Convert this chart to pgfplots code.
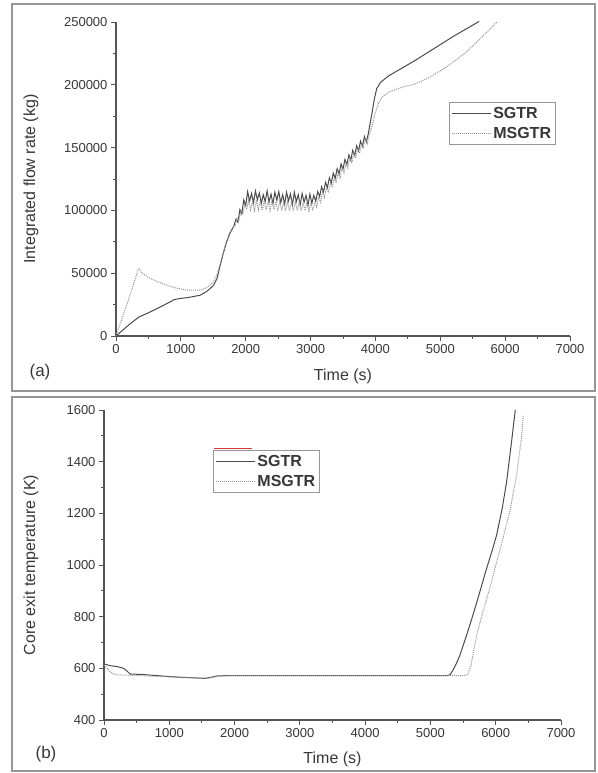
\documentclass[border=0pt]{standalone}
\usepackage{pgfplots}
\pgfplotsset{compat=1.18}
\usepackage{fontspec}
\setmainfont{Liberation Sans}

\definecolor{axgray}{RGB}{85,85,85}
\definecolor{txtgray}{RGB}{55,55,55}
\definecolor{sgtr}{RGB}{75,75,75}
\definecolor{msgtr}{RGB}{150,150,150}
\definecolor{framegray}{RGB}{150,150,150}
\definecolor{legred}{RGB}{215,60,60}

\pgfplotsset{
  panel/.style={
    scale only axis,
    axis x line=bottom, axis y line=left,
    axis line style={-, axgray, line width=1.1pt},
    tick style={axgray, line width=0.9pt},
    tick align=outside,
    major tick length=5pt, minor tick length=3pt,
    minor x tick num=1, minor y tick num=1,
    xmin=0, xmax=7000,
    xtick={0,1000,2000,3000,4000,5000,6000,7000},
    /pgf/number format/assume math mode=true,
    /pgf/number format/fixed,
    /pgf/number format/1000 sep={},
    scaled y ticks=false,
    tick label style={font=\fontsize{13}{13}\selectfont, text=txtgray},
    label style={font=\fontsize{16}{16}\selectfont, text=txtgray},
    legend style={draw=framegray, line width=1pt,
      font=\fontsize{16}{18}\selectfont\bfseries, text=txtgray,
      inner xsep=2pt, inner ysep=2pt, row sep=1pt,
      nodes={inner xsep=2pt, inner ysep=3pt}},
    legend cell align=left,
    legend image code/.code={\path (0pt,0pt) -- (39pt,0pt);
      \draw[##1] (0pt,0pt) -- (34pt,0pt);},
  },
  sgtrline/.style={sgtr, line width=1pt},
  msgtrline/.style={msgtr, line width=1pt, dash pattern=on 1pt off 1pt},
}

\begin{document}
\begin{tikzpicture}[x=1pt,y=1pt]
\path (0,0) rectangle (597,773);
\draw[framegray, line width=1.8pt] (12,382) rectangle (595,769);
\draw[framegray, line width=1.8pt] (12,2) rectangle (595,376);

% (a) integrated flow rate
\begin{axis}[panel,
  at={(116pt,437pt)}, anchor=south west,
  width=454pt, height=314pt,
  ymin=0, ymax=250000,
  ytick={0,50000,100000,150000,200000,250000},
  xlabel={Time (s)}, ylabel={Integrated flow rate (kg)},
  xlabel style={at={(axis description cs:0.5,-0.127)}, anchor=center},
  ylabel style={at={(axis description cs:-0.187,0.5)}, anchor=center},
  legend style={at={(axis description cs:0.733,0.745)}, anchor=north west},
]
\addplot[sgtrline] coordinates {
(0,0) (100,4500) (200,9000) (350,15000) (500,18500) (700,23500) (900,29000)
(1000,30000) (1100,30500) (1300,32500) (1400,35500) (1500,40000) (1560,46000)
(1600,55000) (1650,65000) (1700,74000) (1750,81000) (1800,86000) (1820,88000)
(1850,93000) (1880,90600) (1910,100700) (1940,97300) (1970,108400) (2000,104000)
(2030,115000) (2060,107500) (2090,113500) (2120,106000) (2150,115500) (2180,108500)
(2210,114000) (2240,105500) (2270,112500) (2300,107000) (2330,115500) (2360,106500)
(2390,113000) (2420,105500) (2450,114500) (2480,108000) (2510,115000) (2540,106000)
(2570,112500) (2600,105000) (2630,114500) (2660,107500) (2690,113000) (2720,104500)
(2750,114500) (2780,107000) (2810,112500) (2840,104500) (2870,113500) (2900,106500)
(2930,112000) (2960,104000) (2990,113000) (3020,105500) (3050,112000) (3080,107300)
(3110,115000) (3140,111000) (3170,118800) (3200,114600) (3230,122300) (3260,118200)
(3290,126000) (3320,121900) (3350,129700) (3380,125500) (3410,133200) (3440,129100)
(3470,137000) (3500,132800) (3530,140600) (3560,136400) (3590,144200) (3620,140000)
(3650,147900) (3680,143700) (3710,151500) (3740,147300) (3770,155100) (3800,151000)
(3830,158800) (3860,154600) (3890,161000) (3920,170000) (3950,178000) (3980,188000)
(4020,197000) (4080,202000) (4200,207000) (4400,213000) (4600,219000) (4800,225500)
(5000,232000) (5200,238500) (5400,244500) (5600,250500)
};
\addlegendentry{SGTR}
\addplot[msgtrline] coordinates {
(0,0) (100,15000) (200,30000) (350,54000) (400,50000) (500,46500) (700,42000)
(900,38500) (1100,36500) (1300,36500) (1400,38500) (1500,43000) (1550,48000)
(1600,56000) (1650,66000) (1700,75000) (1750,82000) (1800,87000)
(1835,87000) (1865,93500) (1895,92000) (1925,99000) (1955,97000) (1985,104500)
(2015,101000) (2045,108000) (2075,100500) (2105,107500) (2135,100000) (2165,108000)
(2195,100500) (2225,107500) (2255,100000) (2285,108000) (2315,100500) (2345,107000)
(2375,100000) (2405,107500) (2435,100500) (2465,107000) (2495,99500) (2525,107000)
(2555,100000) (2585,106500) (2615,99500) (2645,107000) (2675,100000) (2705,106500)
(2735,99500) (2765,107000) (2795,100000) (2825,106500) (2855,99500) (2885,106000)
(2915,100000) (2945,106500) (2975,99500) (3005,106000) (3035,100000) (3065,106500)
(3095,102500) (3125,110500) (3155,106500) (3185,114400) (3215,110300) (3245,118300)
(3275,114200) (3305,122200) (3335,118200) (3365,126100) (3395,122000) (3425,130000)
(3455,125900) (3485,133900) (3515,129800) (3545,137800) (3575,133700) (3605,141700)
(3635,137700) (3665,145600) (3695,141500) (3725,149500) (3755,145400) (3785,153400)
(3815,149300) (3845,157300) (3875,153200) (3905,160000) (3950,168000) (4000,178000)
(4050,186000) (4100,190000) (4200,194000) (4400,198000) (4600,200500) (4800,205000)
(5000,211000) (5200,218000) (5400,226000) (5600,236000) (5800,246000) (5880,250500)
};
\addlegendentry{MSGTR}
\end{axis}

% (b) core exit temperature
\begin{axis}[panel,
  at={(104pt,53pt)}, anchor=south west,
  width=457pt, height=310pt,
  ymin=400, ymax=1600,
  ytick={400,600,800,1000,1200,1400,1600},
  xlabel={Time (s)}, ylabel={Core exit temperature (K)},
  xlabel style={at={(axis description cs:0.5,-0.126)}, anchor=center},
  ylabel style={at={(axis description cs:-0.160,0.5)}, anchor=center},
  legend style={at={(axis description cs:0.2385,0.871)}, anchor=north west},
]
\addplot[sgtrline] coordinates {
(0,617) (100,610) (200,607) (300,600) (350,590) (400,578) (600,576) (800,572)
(1000,568) (1200,565) (1400,563) (1550,561) (1650,566) (1750,571) (2000,572)
(3000,572) (4000,572) (5000,572) (5250,572) (5300,575) (5350,595) (5400,620)
(5450,650) (5550,725) (5650,805) (5750,890) (5850,978) (5950,1060) (6014,1116)
(6100,1220) (6167,1322) (6244,1480) (6300,1600)
};
\addlegendentry{SGTR}
\addplot[msgtrline] coordinates {
(0,612) (50,600) (100,585) (150,578) (200,575) (400,573) (1000,567) (1500,562)
(1600,562) (1750,570) (2000,572) (3000,572) (4000,572) (5000,572) (5500,572)
(5570,575) (5620,610) (5670,680) (5720,740) (5800,815) (5913,915) (6066,1060)
(6219,1210) (6321,1350) (6397,1500) (6422,1578)
};
\addlegendentry{MSGTR}
\end{axis}

\draw[legred, line width=1.2pt] (214,324.3) -- (252,324.3);
\node[font=\fontsize{17}{17}\selectfont, text=txtgray] at (40,401) {(a)};
\node[font=\fontsize{17}{17}\selectfont, text=txtgray] at (46,19) {(b)};
\end{tikzpicture}
\end{document}
